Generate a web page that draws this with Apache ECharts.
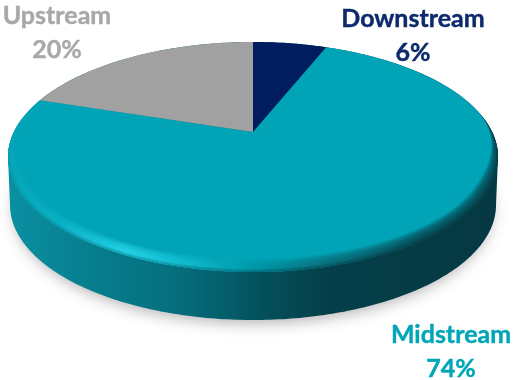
<!DOCTYPE html>
<html>
<head>
<meta charset="utf-8">
<style>html,body{margin:0;padding:0;background:#fff}#chart{width:514px;height:380px}</style>
<script src="https://cdn.jsdelivr.net/npm/echarts@6/dist/echarts.min.js"></script>
</head>
<body>
<div id="chart"></div>
<script>
// Value chain split, drawn as a tilted disc
const segments = ['Downstream', 'Midstream', 'Upstream'];
const shares = [6, 74, 20];
const sliceColors = ['#001d5f', '#00a4b6', '#a1a1a1'];
const labelColors = ['#0c2a6b', '#00a6b8', '#a8a8a8'];
const labelCenters = [[413, 36], [451, 352], [57, 33]];

// Disc geometry: apex and the perspective applied to a unit circle
const apex = [253, 132];
const spanX = 239, spanY = 109.6, tilt = 0.2174;
const rim = { cx: 253, cy: 157, rx: 245, ry: 115 };
const base = { cx: 253, cy: 205, rx: 243, ry: 115 };
const TAU = Math.PI * 2;

function project(theta) {
  const u = Math.sin(theta), v = Math.cos(theta), w = 1 + tilt * v;
  return [apex[0] + spanX * u / w, apex[1] - spanY * v / w];
}
function onEllipse(e, phi, inset) {
  return [e.cx + (e.rx - inset) * Math.cos(phi), e.cy + (e.ry - inset) * Math.sin(phi)];
}
function smooth(a, b, t) {
  const s = Math.min(1, Math.max(0, (t - a) / (b - a)));
  return s * s * (3 - 2 * s);
}
function horizontal(stops) {
  return {
    type: 'linear', x: 8, y: 0, x2: 498, y2: 0, global: true,
    colorStops: stops.map(([x, color]) => ({ offset: (x - 8) / 490, color }))
  };
}

const wallFill = horizontal([[8, '#0a90a2'], [100, '#067c8c'], [170, '#05707f'], [230, '#045c6a'],
  [262, '#03505c'], [330, '#043f49'], [498, '#053843']]);
const bevelFill = horizontal([[8, '#08a6ba'], [60, '#0cb4c8'], [125, '#2adcf0'], [190, '#12bcd0'],
  [250, '#0097a8'], [320, '#0a6a78'], [420, '#07434e'], [498, '#063c48']]);

// Side wall, with a ground shadow cast from a shape hidden beneath it
function renderBody() {
  const hull = [], shadow = [];
  for (let i = 0; i <= 180; i++) {
    hull.push(onEllipse(base, Math.PI * i / 180, 0));
    shadow.push(onEllipse({ cx: 253, cy: 200, rx: 238, ry: 112 }, TAU * i / 180, 0));
  }
  for (let i = 180; i <= 360; i++) hull.push(onEllipse(rim, Math.PI * i / 180, 0));
  return {
    type: 'group',
    children: [
      { type: 'polygon', shape: { points: shadow },
        style: { fill: '#05505c', shadowColor: 'rgba(0,0,0,0.34)', shadowBlur: 16, shadowOffsetY: 10 } },
      { type: 'polygon', shape: { points: hull }, style: { fill: wallFill } }
    ]
  };
}

// One slice of the top face, its sweep taken from the share value
function renderSlice(params, api) {
  const i = params.dataIndex;
  const before = shares.slice(0, i).reduce((a, b) => a + b, 0);
  const total = shares.reduce((a, b) => a + b, 0);
  const start = before / total * TAU, sweep = api.value(0) / total * TAU;
  const points = [apex];
  const steps = Math.ceil(sweep / TAU * 360);
  for (let s = 0; s <= steps; s++) points.push(project(start + sweep * s / steps));
  return { type: 'polygon', shape: { points }, style: { fill: sliceColors[i] } };
}

// A stack of thin crescents along the near edge, so a colour feathers inward
function crescents(fill, count, depth, alpha) {
  const layers = [];
  for (let l = 1; l <= count; l++) {
    const outer = [], inner = [];
    for (let a = 0; a <= 360; a += 2) {
      const phi = -Math.PI / 2 + a * Math.PI / 180;
      const inset = depth * l / count * smooth(-0.42, 0.3, Math.sin(phi));
      outer.push(onEllipse(rim, phi, 0));
      inner.unshift(onEllipse(rim, phi, inset));
    }
    layers.push({ type: 'polygon', shape: { points: outer.concat(inner) },
      style: { fill, opacity: alpha } });
  }
  return layers;
}

// Rounded edge of the top face: highlight band first, then the wall colour blending up into it
function renderBevel() {
  return { type: 'group', children: crescents(bevelFill, 12, 13, 0.18).concat(crescents(wallFill, 4, 3, 0.18)) };
}

function renderLabel(params, api) {
  const i = params.dataIndex;
  return {
    type: 'text',
    x: labelCenters[i][0], y: labelCenters[i][1],
    style: {
      text: segments[i] + '\n' + api.value(0) + '%',
      fill: labelColors[i],
      stroke: labelColors[i],
      lineWidth: 0.4,
      font: 'bold 25px Lato, sans-serif',
      lineHeight: 34,
      align: 'center', verticalAlign: 'middle'
    }
  };
}

const chart = echarts.init(document.getElementById('chart'), null, { renderer: 'canvas' });
chart.setOption({
  animation: false,
  backgroundColor: '#ffffff',
  series: [
    { type: 'custom', coordinateSystem: 'none', silent: true, z: 1, data: [[0]], renderItem: renderBody },
    { type: 'custom', coordinateSystem: 'none', silent: true, z: 2, data: shares.map(v => [v]),
      encode: { value: 0 }, renderItem: renderSlice },
    { type: 'custom', coordinateSystem: 'none', silent: true, z: 3, data: [[0]], renderItem: renderBevel },
    { type: 'custom', coordinateSystem: 'none', silent: true, z: 4, data: shares.map(v => [v]),
      encode: { value: 0 }, renderItem: renderLabel }
  ]
});
</script>
</body>
</html>
